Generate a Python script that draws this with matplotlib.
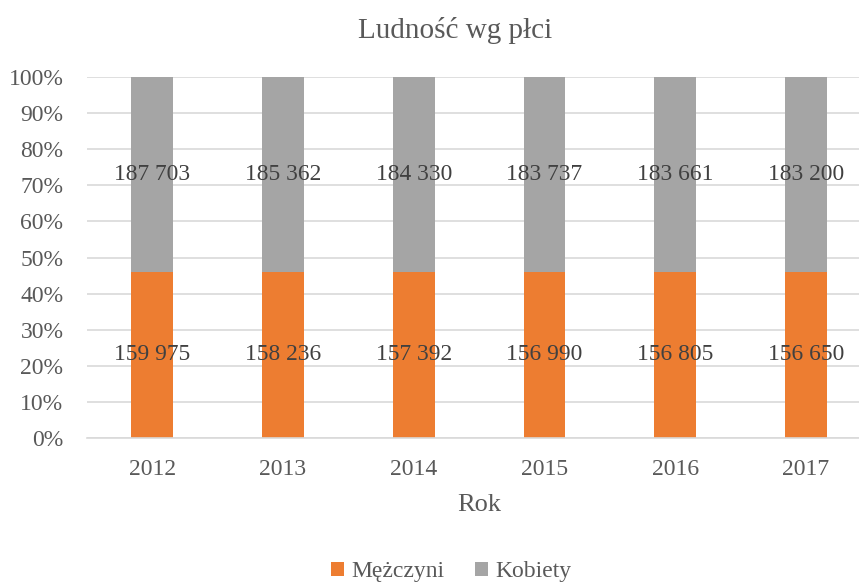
import matplotlib
matplotlib.use("Agg")
import matplotlib.pyplot as plt
import numpy as np

years = ["2012", "2013", "2014", "2015", "2016", "2017"]
men = [159975, 158236, 157392, 156990, 156805, 156650]
women = [187703, 185362, 184330, 183737, 183661, 183200]

ORANGE = "#ED7D31"
GRAY = "#A5A5A5"
TXT = "#595959"

plt.rcParams["font.family"] = ["Liberation Serif", "DejaVu Serif"]

men_a = np.array(men, float)
women_a = np.array(women, float)
tot = men_a + women_a
men_p = men_a / tot
women_p = women_a / tot
x = np.arange(len(years))


def fmt(v):
    return f"{v:,}".replace(",", " ")


fig = plt.figure(figsize=(8.59, 5.85), dpi=100)
ax = fig.add_axes([87 / 859, 1 - 438 / 585, 772 / 859, 361 / 585])
ax.bar(x, men_p, width=0.32, color=ORANGE, label="Mężczyni", zorder=2)
ax.bar(x, women_p, width=0.32, bottom=men_p, color=GRAY, label="Kobiety", zorder=2)

# data labels centred in each segment
for i in range(len(x)):
    ax.text(x[i], men_p[i] / 2, fmt(men[i]), ha="center", va="center",
            fontsize=16.9, color="#404040", zorder=3)
    ax.text(x[i], men_p[i] + women_p[i] / 2, fmt(women[i]), ha="center", va="center",
            fontsize=16.9, color="#404040", zorder=3)

ax.set_xlim(-0.5, 5.407)
ax.set_ylim(0, 1)
ticks = np.arange(0, 1.01, 0.1)
ax.set_yticks(ticks)
ax.set_yticklabels([f"{int(round(v * 100))}%" for v in ticks])
ax.set_xticks(x)
ax.set_xticklabels(years)
ax.yaxis.grid(True, color="#D9D9D9", linewidth=1.2, zorder=0)
ax.tick_params(axis="both", length=0, labelsize=17, labelcolor=TXT)
ax.tick_params(axis="x", pad=15)
ax.tick_params(axis="y", pad=17)
for s in ["top", "right", "left"]:
    ax.spines[s].set_visible(False)
ax.spines["bottom"].set_color("#D9D9D9")
ax.spines["bottom"].set_linewidth(1.2)

ax.set_xlabel("Rok", fontsize=19, color=TXT, va="center")
ax.xaxis.set_label_coords((479 - 87) / 772, -(505 - 438) / 361)
fig.text(455 / 859, 1 - 30 / 585, "Ludność wg płci", ha="center", va="center", fontsize=21, color=TXT)

fig.legend(loc="center", bbox_to_anchor=(451 / 859, 1 - 572 / 585), ncol=2, frameon=False,
           fontsize=17, handlelength=0.55, handleheight=0.55, handletextpad=0.3,
           columnspacing=1.3, labelcolor=TXT)

fig.savefig("out.png", dpi=100)
